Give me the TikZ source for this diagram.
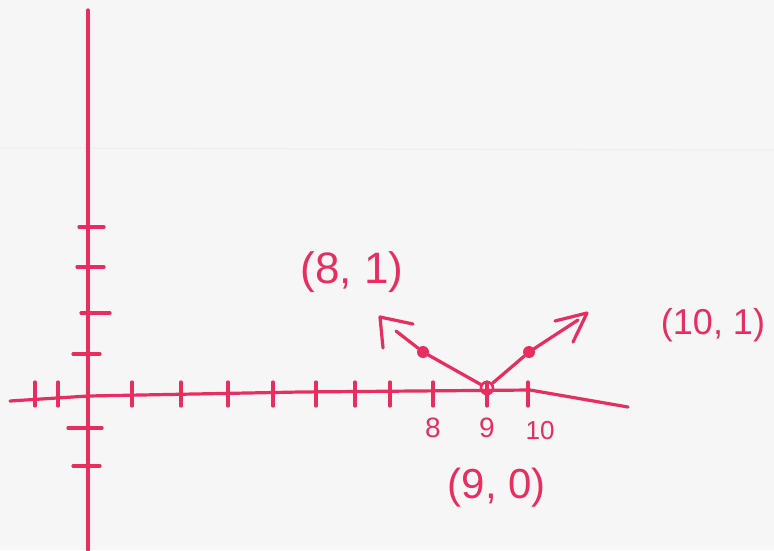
\documentclass[tikz,border=0pt]{standalone}
\usepackage{fontspec}
\setmainfont{Liberation Sans}
\definecolor{ink}{RGB}{232,45,95}
\definecolor{paper}{RGB}{246,246,246}
\begin{document}
\begin{tikzpicture}[x=1pt,y=-1pt,
  pen/.style={draw=ink,line width=3.2pt,line cap=round,line join=round},
  lbl/.style={text=ink,inner sep=0pt},
  dotmark/.style={circle,fill=ink,inner sep=0pt,minimum size=12pt},
  ringmark/.style={circle,draw=ink,line width=2.6pt,inner sep=0pt,minimum size=12pt}]
\fill[paper] (0,0) rectangle (774,550);
\useasboundingbox (0,0) rectangle (774,550);
\draw[black!7,line width=1pt] (0,148) -- (774,150);
% axes
\draw[pen] (88,10) -- (88,550);
\draw[pen] (10,401) -- (88,396) -- (300,392) -- (530,390) -- (628,407);
% x ticks
\foreach \x in {35,58,132,181,228,273,316,355,390,433,487,528}
  \draw[pen] (\x,382) -- (\x,406);
% y ticks
\draw[pen] (79,227) -- (104,227);
\draw[pen] (77,267) -- (104,267);
\draw[pen] (81,313) -- (110,313);
\draw[pen] (73,354) -- (100,354);
\draw[pen] (68,428) -- (102,428);
\draw[pen] (73,466) -- (100,466);
% points
\node[ringmark] (p9) at (487,388) {};
\node[dotmark] (p8) at (423,352) {};
\node[dotmark] (p10) at (529,352) {};
\coordinate (ltip) at (380,317);
\coordinate (rtip) at (587,313);
\coordinate (la) at (413,324);
\coordinate (lb) at (383,348);
\coordinate (ra) at (555,321);
\coordinate (rb) at (573,342);
\draw[pen] (p9) -- (p8) -- (396,331);
\draw[pen] (la) -- (ltip) -- (lb);
\draw[pen] (p9) -- (p10) -- (578,320);
\draw[pen] (ra) -- (rtip) -- (rb);
% labels
\node[lbl,font=\fontsize{28}{28}\selectfont] (t8) at (433,428) {8};
\node[lbl,font=\fontsize{28}{28}\selectfont] (t9) at (487,428) {9};
\node[lbl,font=\fontsize{26}{26}\selectfont] (t10) at (540,431) {10};
\node[lbl,font=\fontsize{44}{44}\selectfont] (l81) at (352,272) {(8, 1)};
\node[lbl,font=\fontsize{36}{36}\selectfont] (l101) at (713,325) {(10, 1)};
\node[lbl,font=\fontsize{42}{42}\selectfont] (l90) at (497,488) {(9, 0)};
\end{tikzpicture}
\end{document}
